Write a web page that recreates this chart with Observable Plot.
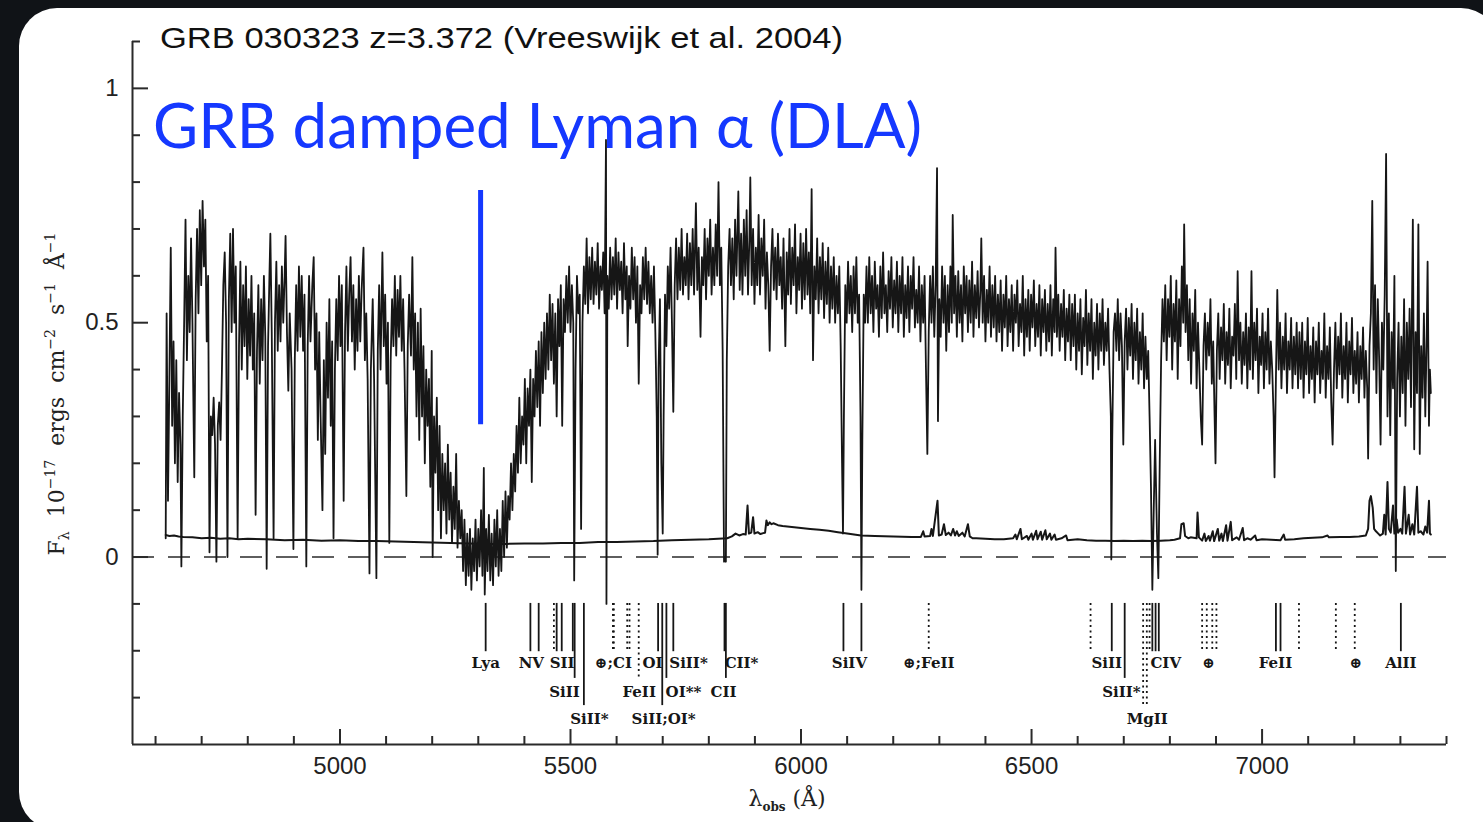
<!DOCTYPE html>
<html><head><meta charset="utf-8">
<script src="https://cdn.jsdelivr.net/npm/d3@7"></script>
<script src="https://cdn.jsdelivr.net/npm/@observablehq/plot@0.6"></script>
<style>
html,body{margin:0;padding:0;width:1483px;height:822px;overflow:hidden;background:#101317;}
#panel{position:absolute;left:19px;top:8px;width:1480px;height:822px;border-radius:38px;background:#fff;}
#chart{position:absolute;left:0;top:0;}
</style></head><body><div id="panel"></div><div id="chart"></div>
<script>
// ---- data ----
const xDomain = [4550, 7400];
const yDomain = [-0.4, 1.1];
const xMajor = [5000, 5500, 6000, 6500, 7000];
const xMinor = [4600,4700,4800,4900,5100,5200,5300,5400,5600,5700,5800,5900,6100,6200,6300,6400,6600,6700,6800,6900,7100,7200,7300,7400];
const yMajor = [0, 0.5, 1];
const yMinor = [-0.3,-0.2,-0.1,0.1,0.2,0.3,0.4,0.6,0.7,0.8,0.9,1.1];

// observed flux [wavelength Å, F]
const fluxPoints = [
[4622,0.04],[4624,0.52],[4627,0.12],[4630,0.38],[4633,0.66],[4636,0.28],[4639,0.46],[4642,0.20],[4645,0.42],[4648,0.16],[4651,0.35],[4654,0.24],[4656,-0.02],[4659,0.30],[4662,0.50],[4665,0.72],[4668,0.42],[4671,0.60],[4674,0.48],[4677,0.68],[4680,0.50],[4684,0.17],[4687,0.55],[4690,0.70],[4693,0.52],[4696,0.74],[4699,0.58],[4702,0.76],[4705,0.62],[4708,0.72],[4711,0.46],[4714,0.60],[4717,0.01],[4720,0.30],[4723,0.26],[4726,0.34],[4729,0.24],[4732,-0.01],[4735,0.28],[4738,0.33],[4741,0.25],[4744,0.40],[4747,0.58],[4750,0.65],[4753,0.50],[4756,0.00],[4759,0.55],[4762,0.69],[4765,0.48],[4768,0.70],[4771,0.50],[4774,0.62],[4778,0.04],[4781,0.45],[4784,0.63],[4787,0.40],[4790,0.58],[4793,0.45],[4796,0.62],[4799,0.38],[4802,0.55],[4805,0.43],[4808,0.60],[4811,0.40],[4814,0.52],[4817,0.09],[4820,0.44],[4823,0.58],[4826,0.37],[4829,0.55],[4832,0.42],[4835,0.60],[4838,0.47],[4841,-0.025],[4844,0.45],[4847,0.60],[4849,0.69],[4852,0.48],[4856,0.04],[4859,0.50],[4862,0.63],[4865,0.44],[4868,0.58],[4871,0.46],[4874,0.62],[4877,0.50],[4880,0.60],[4882,0.685],[4885,0.48],[4888,0.355],[4891,0.52],[4895,0.40],[4899,0.017],[4902,0.42],[4905,0.58],[4908,0.44],[4911,0.62],[4914,0.47],[4917,0.60],[4920,0.44],[4923,0.56],[4927,-0.02],[4930,0.45],[4933,0.60],[4936,0.46],[4940,0.58],[4943,0.64],[4946,0.40],[4949,0.52],[4952,0.25],[4955,0.48],[4958,0.30],[4962,0.10],[4965,0.42],[4968,0.22],[4971,0.50],[4974,0.34],[4977,0.55],[4980,0.28],[4983,0.46],[4986,0.04],[4989,0.40],[4992,0.55],[4995,0.42],[4998,0.60],[5001,0.45],[5004,0.58],[5008,0.12],[5011,0.48],[5014,0.62],[5017,0.44],[5020,0.56],[5023,0.64],[5026,0.46],[5029,0.58],[5032,0.40],[5035,0.55],[5038,0.44],[5041,0.60],[5044,0.46],[5047,0.57],[5051,0.66],[5054,0.42],[5057,0.52],[5060,0.38],[5064,-0.035],[5067,0.40],[5071,0.55],[5074,0.38],[5079,-0.045],[5082,0.44],[5085,0.58],[5088,0.40],[5092,0.65],[5095,0.45],[5098,0.56],[5101,0.37],[5104,0.50],[5107,0.03],[5110,0.42],[5113,0.55],[5116,0.45],[5119,0.60],[5122,0.43],[5125,0.57],[5128,0.47],[5131,0.60],[5134,0.44],[5137,0.55],[5140,0.40],[5144,0.13],[5147,0.45],[5150,0.56],[5154,0.43],[5157,0.64],[5160,0.40],[5163,0.52],[5166,0.30],[5169,0.50],[5172,0.25],[5175,0.53],[5178,0.30],[5181,0.45],[5184,0.20],[5187,0.40],[5190,0.28],[5193,0.38],[5196,0.15],[5199,0.44],[5201,0.00],[5204,0.30],[5207,0.18],[5210,0.34],[5213,0.10],[5216,0.28],[5219,0.04],[5222,0.22],[5225,0.10],[5228,0.20],[5231,0.05],[5234,0.24],[5237,0.08],[5240,0.18],[5243,0.03],[5246,0.15],[5249,0.06],[5252,0.22],[5255,0.02],[5258,0.12],[5261,0.04],[5264,0.10],[5267,-0.03],[5270,0.08],[5273,-0.06],[5276,0.05],[5279,-0.04],[5282,0.06],[5285,-0.07],[5288,0.04],[5291,-0.03],[5294,0.08],[5297,-0.05],[5300,0.06],[5303,-0.02],[5306,0.10],[5309,-0.04],[5312,0.19],[5314,-0.08],[5317,0.06],[5320,-0.03],[5323,0.09],[5326,-0.05],[5329,0.05],[5332,-0.06],[5335,0.08],[5338,-0.02],[5341,0.10],[5344,-0.04],[5347,0.06],[5350,-0.03],[5353,0.12],[5356,0.00],[5359,0.14],[5362,0.02],[5365,0.13],[5368,0.08],[5371,0.20],[5374,0.10],[5377,0.22],[5380,0.14],[5383,0.28],[5386,0.18],[5389,0.34],[5392,0.20],[5395,0.30],[5398,0.24],[5401,0.38],[5404,0.20],[5407,0.36],[5410,0.28],[5413,0.40],[5416,0.16],[5419,0.38],[5422,0.30],[5425,0.44],[5428,0.32],[5431,0.46],[5434,0.28],[5437,0.48],[5440,0.35],[5443,0.50],[5446,0.38],[5449,0.52],[5452,0.40],[5455,0.56],[5458,0.42],[5461,0.54],[5464,0.37],[5467,0.52],[5470,0.30],[5473,0.55],[5476,0.45],[5479,0.58],[5482,0.28],[5485,0.55],[5488,0.48],[5491,0.60],[5494,0.50],[5497,0.62],[5500,0.48],[5503,0.58],[5506,0.50],[5508,-0.05],[5511,0.40],[5514,0.60],[5517,0.52],
[5520,0.56],[5523,0.06],[5526,0.50],[5529,0.62],[5532,0.54],[5535,0.68],[5538,0.52],[5541,0.64],[5544,0.55],[5547,0.66],[5550,0.54],[5553,0.63],[5556,0.56],[5559,0.67],[5562,0.53],[5565,0.62],[5568,0.57],[5571,0.65],[5574,0.52],[5577,0.89],[5578,-0.10],[5580,0.60],[5583,0.53],[5586,0.66],[5589,0.55],[5592,0.64],[5595,0.56],[5598,0.68],[5601,0.53],[5604,0.65],[5607,0.57],[5610,0.63],[5613,0.52],[5616,0.67],[5619,0.55],[5622,0.62],[5624,0.45],[5627,0.60],[5630,0.53],[5633,0.66],[5636,0.55],[5639,0.64],[5642,0.50],[5645,0.62],[5648,0.37],[5651,0.58],[5654,0.52],[5657,0.64],[5660,0.55],[5663,0.66],[5666,0.54],[5669,0.63],[5672,0.52],[5675,0.60],[5678,0.50],[5681,0.62],[5684,0.48],[5687,0.30],[5689,0.005],[5691,0.40],[5694,0.55],[5697,0.20],[5700,0.05],[5702,0.30],[5705,0.56],[5708,0.45],[5711,0.62],[5714,0.53],[5717,0.66],[5720,0.50],[5723,0.31],[5726,0.58],[5729,0.68],[5732,0.55],[5735,0.66],[5738,0.57],[5741,0.70],[5744,0.56],[5747,0.64],[5750,0.58],[5753,0.69],[5756,0.55],[5759,0.67],[5762,0.58],[5765,0.70],[5768,0.56],[5772,0.755],[5775,0.57],[5778,0.66],[5782,0.47],[5785,0.64],[5788,0.58],[5791,0.70],[5794,0.55],[5797,0.68],[5800,0.60],[5803,0.72],[5806,0.56],[5809,0.66],[5812,0.58],[5815,0.71],[5818,0.60],[5821,0.80],[5824,0.58],[5827,0.66],[5830,0.44],[5833,-0.01],[5835,0.00],[5837,-0.01],[5839,0.42],[5842,0.62],[5845,0.70],[5848,0.58],[5851,0.68],[5854,0.55],[5857,0.72],[5860,0.60],[5864,0.78],[5867,0.57],[5870,0.69],[5873,0.56],[5876,0.72],[5879,0.60],[5882,0.74],[5885,0.56],[5888,0.68],[5890,0.81],[5893,0.58],[5896,0.70],[5899,0.54],[5902,0.66],[5905,0.58],[5908,0.73],[5911,0.56],[5914,0.68],[5917,0.60],[5920,0.72],[5923,0.53],[5926,0.65],[5929,0.58],[5932,0.44],[5935,0.62],[5938,0.70],[5941,0.57],[5944,0.66],[5947,0.55],[5950,0.69],[5953,0.58],[5956,0.64],[5959,0.53],[5962,0.68],[5966,0.45],[5969,0.65],[5972,0.56],[5975,0.70],[5978,0.54],[5981,0.66],[5984,0.58],[5987,0.71],[5990,0.52],[5993,0.64],[5996,0.57],[5999,0.69],[6002,0.53],[6005,0.67],[6008,0.55],[6011,0.70],[6014,0.56],[6017,0.65],[6020,0.52],[6023,0.785],[6026,0.42],[6029,0.62],[6032,0.55],[6035,0.68],[6038,0.52],[6041,0.64],[6044,0.55],[6047,0.67],[6050,0.51],[6053,0.63],[6056,0.54],[6059,0.66],[6062,0.50],[6065,0.62],[6068,0.53],[6071,0.64],[6074,0.50],[6077,0.60],[6080,0.52],[6083,0.62],[6086,0.45],[6089,0.20],[6091,0.05],[6093,0.30],[6096,0.58],[6099,0.50],[6102,0.63],[6105,0.52],[6108,0.60],[6111,0.48],[6114,0.62],[6117,0.52],[6120,0.64],[6123,0.50],[6126,0.56],[6129,0.30],[6131,-0.07],[6133,0.25],[6136,0.56],[6139,0.50],[6142,0.62],[6145,0.50],[6148,0.64],[6151,0.52],[6154,0.60],[6157,0.48],[6160,0.63],[6163,0.53],[6166,0.58],[6169,0.47],[6172,0.62],[6175,0.51],[6178,0.65],[6181,0.52],[6184,0.58],[6187,0.48],[6190,0.61],[6193,0.53],[6196,0.64],[6199,0.49],[6202,0.59],[6205,0.52],[6208,0.63],[6211,0.48],[6214,0.60],[6217,0.52],[6220,0.64],[6223,0.47],[6226,0.58],[6229,0.51],[6232,0.62],[6235,0.48],[6238,0.60],[6241,0.53],[6244,0.64],[6247,0.49],[6250,0.57],[6253,0.50],[6256,0.62],[6259,0.46],[6262,0.58],[6265,0.50],[6268,0.60],[6271,0.40],[6274,0.22],[6277,0.48],[6280,0.60],[6283,0.50],[6286,0.62],[6289,0.47],[6292,0.58],[6295,0.83],[6297,0.29],[6300,0.55],[6303,0.47],[6306,0.62],[6309,0.50],[6312,0.60],[6315,0.44],[6318,0.58],[6321,0.48],[6324,0.62],[6327,0.50],[6329,0.73],[6332,0.52],[6335,0.60],[6338,0.47],[6341,0.61],[6344,0.50],[6347,0.58],[6350,0.46],[6353,0.62],[6356,0.52],[6359,0.60],[6362,0.48],[6365,0.59],[6368,0.50],[6371,0.63],[6374,0.47],[6377,0.58],[6380,0.51],[6383,0.61],[6386,0.49],[6389,0.57],[6391,0.68],[6394,0.50],[6397,0.60],[6400,0.46],[6403,0.57],[6406,0.50],[6409,0.62],[6412,0.47],[6415,0.58],[6418,0.49],[6421,0.60],[6424,0.46],[6427,0.56],[6430,0.48],[6433,0.59],[6436,0.44],[6439,0.56],[6442,0.49],[6445,0.60],[6448,0.45],[6451,0.55],[6454,0.48],[6457,0.58],[6460,0.44],[6463,0.56],[6466,0.50],[6469,0.59],[6472,0.45],[6475,0.54],[6478,0.48],[6481,0.60],[6484,0.43],[6487,0.55],[6490,0.47],[6493,0.57],[6496,0.44],[6499,0.56],[6502,0.49],[6505,0.59],[6508,0.45],[6511,0.54],[6514,0.47],[6517,0.58],[6520,0.43],[6523,0.55],[6526,0.48],[6529,0.57],[6532,0.44],[6535,0.54],[6538,0.46],[6541,0.58],[6544,0.43],[6547,0.55],[6550,0.48],[6552,0.66],[6555,0.47],[6558,0.56],[6561,0.44],[6564,0.54],[6567,0.47],[6570,0.57],[6573,0.42],[6576,0.53],[6579,0.46],[6582,0.56],[6585,0.42],[6588,0.54],[6591,0.45],[6594,0.56],[6597,0.40],[6600,0.52],[6603,0.44],[6606,0.55],[6609,0.39],[6612,0.51],[6615,0.45],[6618,0.57],[6621,0.41],[6624,0.52],[6627,0.44],[6630,0.55],[6633,0.38],[6636,0.50],[6639,0.43],[6642,0.54],[6645,0.40],[6648,0.52],[6651,0.44],[6654,0.55],[6657,0.41],[6660,0.50],[6663,0.44],[6666,0.53],[6669,0.40],[6672,0.30],[6673,-0.005],[6675,0.25],[6678,0.48],[6681,0.52],[6684,0.44],[6687,0.55],[6690,0.42],[6693,0.52],[6696,0.45],[6699,0.24],[6702,0.46],[6705,0.53],[6708,0.40],[6711,0.51],[6714,0.43],[6717,0.54],[6720,0.38],[6723,0.50],[6726,0.42],[6729,0.53],[6732,0.37],[6735,0.48],[6738,0.40],[6741,0.52],[6744,0.36],[6747,0.47],[6750,0.38],[6753,0.44],[6756,0.30],[6759,0.15],[6762,-0.07],[6765,0.10],[6768,0.25],[6772,0.05],[6775,-0.045],[6778,0.20],[6781,0.42],[6784,0.55],[6787,0.46],[6790,0.58],[6793,0.42],[6796,0.55],[6799,0.47],[6802,0.60],[6805,0.40],[6808,0.54],[6811,0.46],[6814,0.59],[6817,0.38],[6820,0.55],[6823,0.45],[6826,0.62],[6829,0.50],[6831,0.71],[6834,0.48],[6837,0.58],[6840,0.42],[6843,0.55],[6846,0.37],[6849,0.52],[6852,0.44],[6855,0.57],[6858,0.36],[6861,0.50],[6864,0.40],[6867,0.30],[6870,0.24],[6873,0.45],[6876,0.52],[6879,0.40],[6882,0.50],[6885,0.43],[6888,0.55],[6891,0.37],[6894,0.46],[6897,0.30],[6899,0.20],[6902,0.44],[6905,0.52],[6908,0.38],[6911,0.49],[6914,0.42],[6917,0.54],[6920,0.37],[6923,0.48],[6926,0.41],[6929,0.53],[6932,0.36],[6935,0.47],[6938,0.43],[6941,0.54],[6944,0.38],[6947,0.61],[6950,0.42],[6953,0.50],[6956,0.37],[6959,0.48],[6962,0.41],[6965,0.52],[6968,0.36],[6971,0.49],[6974,0.40],[6977,0.61],[6980,0.38],[6983,0.50],[6986,0.42],[6989,0.53],[6992,0.35],[6995,0.47],[6998,0.41],[7001,0.52],[7004,0.36],[7007,0.48],[7010,0.40],[7013,0.53],[7016,0.37],[7019,0.46],[7022,0.40],[7025,0.30],[7027,0.17],[7030,0.38],[7033,0.57],[7036,0.40],[7039,0.50],[7042,0.36],[7045,0.47],[7048,0.40],[7051,0.52],[7054,0.35],[7057,0.46],[7060,0.40],[7063,0.51],[7066,0.36],[7069,0.47],[7072,0.39],[7075,0.50],[7078,0.36],[7081,0.48],[7084,0.38],[7087,0.50],[7090,0.34],[7093,0.46],[7096,0.39],[7099,0.51],[7102,0.35],[7105,0.45],[7108,0.38],[7111,0.49],[7114,0.33],[7117,0.46],[7120,0.39],[7123,0.50],[7126,0.35],[7129,0.44],[7132,0.38],[7135,0.52],[7138,0.34],[7141,0.45],[7144,0.38],[7147,0.49],[7150,0.33],[7153,0.24],[7156,0.40],[7159,0.50],[7162,0.36],[7165,0.47],[7168,0.39],[7171,0.52],[7174,0.34],[7177,0.45],[7180,0.38],[7183,0.50],[7186,0.33],[7189,0.46],[7192,0.39],[7195,0.51],[7198,0.35],[7201,0.44],[7204,0.37],[7207,0.48],[7210,0.33],[7213,0.45],[7216,0.38],[7219,0.49],[7222,0.34],[7225,0.44],[7228,0.36],[7230,0.21],[7233,0.45],[7236,0.52],[7239,0.76],[7242,0.40],[7245,0.58],[7248,0.35],[7251,0.55],[7254,0.42],[7257,0.24],[7260,0.50],[7263,0.40],[7266,0.56],[7269,0.86],[7272,0.30],[7275,0.52],[7278,0.26],[7281,0.48],[7284,0.36],[7287,0.60],[7290,-0.03],[7293,0.38],[7296,0.50],[7299,0.30],[7302,0.47],[7305,0.35],[7308,0.55],[7311,0.28],[7314,0.50],[7317,0.38],[7320,0.53],[7323,0.32],[7327,0.72],[7330,0.23],[7333,0.48],[7336,0.35],[7339,0.71],[7342,0.22],[7345,0.45],[7348,0.34],[7351,0.52],[7354,0.30],[7357,0.47],[7359,0.63],[7362,0.28],[7364,0.40],[7366,0.35]
];

// error spectrum [wavelength Å, sigma]
const errorPoints = [
[4622,0.047],[4630,0.045],[4640,0.046],[4650,0.044],[4660,0.043],[4680,0.042],[4700,0.040],[4720,0.041],[4740,0.039],[4760,0.040],[4780,0.038],[4800,0.039],[4840,0.038],[4880,0.036],[4920,0.037],[4960,0.035],[5000,0.036],[5040,0.034],[5080,0.034],[5120,0.033],[5160,0.032],[5200,0.031],[5240,0.030],[5280,0.029],[5320,0.028],[5360,0.028],[5400,0.029],[5440,0.029],[5480,0.030],[5520,0.030],[5560,0.032],[5600,0.032],[5640,0.033],[5680,0.034],[5720,0.036],[5760,0.037],[5800,0.038],[5840,0.040],[5850,0.044],[5858,0.050],[5866,0.046],[5874,0.049],[5880,0.048],[5884,0.110],[5887,0.050],[5892,0.052],[5896,0.085],[5899,0.050],[5906,0.053],[5912,0.049],[5918,0.051],[5922,0.052],[5925,0.078],[5928,0.068],[5932,0.074],[5936,0.070],[5940,0.072],[5950,0.068],[5960,0.066],[5980,0.064],[6000,0.062],[6020,0.060],[6040,0.058],[6060,0.056],[6080,0.053],[6100,0.050],[6130,0.046],[6160,0.045],[6200,0.044],[6240,0.043],[6260,0.043],[6265,0.055],[6268,0.044],[6280,0.045],[6283,0.060],[6286,0.045],[6296,0.120],[6299,0.046],[6305,0.048],[6310,0.070],[6314,0.047],[6320,0.052],[6325,0.046],[6330,0.060],[6334,0.046],[6338,0.055],[6342,0.045],[6350,0.052],[6355,0.044],[6362,0.070],[6366,0.044],[6372,0.040],[6380,0.040],[6400,0.039],[6420,0.038],[6440,0.038],[6460,0.040],[6465,0.048],[6468,0.038],[6476,0.060],[6479,0.038],[6490,0.045],[6493,0.037],[6500,0.050],[6503,0.037],[6510,0.056],[6513,0.038],[6520,0.054],[6523,0.037],[6530,0.057],[6533,0.038],[6540,0.050],[6543,0.037],[6550,0.048],[6553,0.037],[6565,0.040],[6575,0.046],[6578,0.036],[6600,0.038],[6620,0.036],[6640,0.035],[6660,0.035],[6680,0.034],[6700,0.035],[6720,0.034],[6740,0.035],[6760,0.034],[6780,0.035],[6800,0.036],[6810,0.037],[6822,0.040],[6825,0.070],[6830,0.072],[6833,0.045],[6840,0.040],[6845,0.042],[6858,0.040],[6860,0.095],[6863,0.042],[6870,0.035],[6875,0.050],[6878,0.034],[6884,0.045],[6887,0.035],[6893,0.055],[6896,0.034],[6904,0.060],[6907,0.035],[6912,0.050],[6915,0.034],[6922,0.068],[6925,0.035],[6932,0.075],[6935,0.036],[6945,0.042],[6950,0.037],[6958,0.062],[6961,0.036],[6968,0.040],[6975,0.037],[6985,0.046],[6988,0.036],[7000,0.038],[7020,0.037],[7040,0.036],[7047,0.048],[7050,0.037],[7070,0.038],[7090,0.040],[7110,0.041],[7130,0.042],[7142,0.046],[7145,0.042],[7170,0.043],[7190,0.043],[7210,0.044],[7225,0.046],[7230,0.060],[7233,0.120],[7236,0.130],[7240,0.105],[7243,0.060],[7247,0.055],[7252,0.050],[7256,0.046],[7262,0.050],[7265,0.090],[7268,0.048],[7272,0.160],[7275,0.060],[7279,0.052],[7284,0.110],[7287,0.050],[7292,0.080],[7295,0.052],[7300,0.060],[7304,0.050],[7309,0.150],[7312,0.050],[7318,0.090],[7321,0.048],[7326,0.070],[7330,0.048],[7336,0.150],[7339,0.052],[7344,0.055],[7350,0.048],[7354,0.065],[7358,0.052],[7362,0.120],[7364,0.050],[7366,0.048]
];

// absorption-line identifications: [wavelength Å, label row reached by the line]
const solidLines = [[5316,1],[5413,1],[5431,1],[5470,1],[5481,1],[5505,1],[5509,2],[5529,3],[5690,1],[5699,3],[5708,2],[5723,1],[5834,1],[5837,2],[6092,1],[6131,1],[6674,1],[6702,2],[6762,1],[6769,1],[6776,1],[7030,1],[7040,1],[7301,1]];
const dottedLines = [[5464,1],[5592,1],[5594,1],[5623,1],[5628,1],[5648,2],[6277,1],[6628,1],[6742,3],[6750,3],[6756,1],[6870,1],[6880,1],[6892,1],[6901,1],[7080,1],[7160,1],[7201,1]];
const lineLabels = [["Lya",5316,1],["NV",5415,1],["SII",5482,1],["SiII",5487,2],["SiII*",5541,3],["⊕;CI",5593,1],["OI",5678,1],["FeII",5649,2],["SiII*",5756,1],["OI**",5745,2],["SiII;OI*",5702,3],["CII*",5871,1],["CII",5832,2],["SiIV",6105,1],["⊕;FeII",6277,1],["SiII",6663,1],["SiII*",6695,2],["MgII",6751,3],["CIV",6791,1],["⊕",6884,1],["FeII",7029,1],["⊕",7203,1],["AlII",7301,1]];
const lineTop = -0.099;
const rowEnds = [-0.202, -0.259, -0.317];
const rowLabelY = [-0.227, -0.289, -0.347];

// DLA marker
const dlaMarkerWave = [5305];
const dlaMarkerRange = [0.282, 0.782];

const titleText = "GRB 030323 z=3.372 (Vreeswijk et al. 2004)";
const headingText = "GRB damped Lyman α (DLA)";

// ---- chart ----
const ink = "#161616";
const blue = "#1538ff";
const W = 1483, H = 822, mL = 132, mR = 37, mT = 41, mB = 78;
const frameW = W - mL - mR, frameH = H - mT - mB;

const chart = Plot.plot({
  width: W, height: H,
  marginLeft: mL, marginRight: mR, marginTop: mT, marginBottom: mB,
  style: {background: "transparent", fontFamily: "'Liberation Sans', Arial, sans-serif", fontSize: "24px", color: ink},
  x: {domain: xDomain},
  y: {domain: yDomain},
  marks: [
    Plot.ruleY([0], {stroke: "#2a2a2a", strokeWidth: 1.6, strokeDasharray: "22,14"}),
    Plot.ruleX(dlaMarkerWave, {x: d => d, y1: () => dlaMarkerRange[0], y2: () => dlaMarkerRange[1], stroke: blue, strokeWidth: 5, strokeLinecap: "butt"}),
    Plot.line(errorPoints, {x: d => d[0], y: d => d[1], stroke: ink, strokeWidth: 2}),
    Plot.line(fluxPoints, {x: d => d[0], y: d => d[1], stroke: ink, strokeWidth: 1.8}),
    Plot.ruleX(solidLines, {x: d => d[0], y1: () => lineTop, y2: d => rowEnds[d[1] - 1], stroke: ink, strokeWidth: 1.8}),
    Plot.ruleX(dottedLines, {x: d => d[0], y1: () => lineTop, y2: d => rowEnds[d[1] - 1], stroke: ink, strokeWidth: 1.8, strokeDasharray: "2,3.5"}),
    Plot.text(lineLabels, {x: d => d[1], y: d => rowLabelY[d[2] - 1], text: d => d[0], fontFamily: "'DejaVu Serif', serif", fontWeight: "bold", fontSize: 15, fill: ink}),
    Plot.ruleY([yDomain[0]], {stroke: "#2a2a2a", strokeWidth: 2}),
    Plot.ruleX([xDomain[0]], {stroke: "#2a2a2a", strokeWidth: 2}),
    Plot.tickX(xMinor, {x: d => d, insetTop: frameH - 8, stroke: "#2a2a2a", strokeWidth: 2}),
    Plot.tickX(xMajor, {x: d => d, insetTop: frameH - 15, stroke: "#2a2a2a", strokeWidth: 2}),
    Plot.tickY(yMinor, {y: d => d, insetRight: frameW - 8, stroke: "#2a2a2a", strokeWidth: 2}),
    Plot.tickY(yMajor, {y: d => d, insetRight: frameW - 16, stroke: "#2a2a2a", strokeWidth: 2}),
    Plot.axisX({ticks: xMajor, tickSize: 0, tickPadding: 12, tickFormat: d3.format("d"), fontSize: 24, fill: "#222"}),
    Plot.axisY({ticks: yMajor, tickSize: 0, tickPadding: 14, tickFormat: d => String(d), fontSize: 24, fill: "#222"})
  ]
});
document.getElementById("chart").appendChild(chart);

const svg = d3.select(chart);
// blue heading beneath the spectrum lines
svg.insert("text", 'g[aria-label="line"]')
  .attr("x", 153).attr("y", 148).attr("text-anchor", "start")
  .attr("font-family", "Lato, 'Open Sans', sans-serif").attr("font-size", 62)
  .attr("textLength", 769).attr("lengthAdjust", "spacingAndGlyphs")
  .attr("fill", blue).text(headingText);
// title
svg.append("text").attr("x", 160).attr("y", 48).attr("text-anchor", "start")
  .attr("font-family", "'Liberation Sans', Arial, sans-serif").attr("font-size", 30)
  .attr("textLength", 683).attr("lengthAdjust", "spacingAndGlyphs")
  .attr("fill", "#111").text(titleText);
// y label
const yl = svg.append("text").attr("transform", "translate(64,394) rotate(-90)")
  .attr("text-anchor", "middle").attr("font-family", "'DejaVu Serif', serif")
  .attr("font-size", 22).attr("fill", "#222");
yl.append("tspan").text("F");
yl.append("tspan").attr("font-size", 14).attr("dy", 5).text("λ");
yl.append("tspan").attr("dy", -5).text("  10");
yl.append("tspan").attr("font-size", 14).attr("dy", -9).text("−17");
yl.append("tspan").attr("dy", 9).text("  ergs  cm");
yl.append("tspan").attr("font-size", 14).attr("dy", -9).text("−2");
yl.append("tspan").attr("dy", 9).text("  s");
yl.append("tspan").attr("font-size", 14).attr("dy", -9).text("−1");
yl.append("tspan").attr("dy", 9).text("  Å");
yl.append("tspan").attr("font-size", 14).attr("dy", -9).text("−1");
// x label
const xl = svg.append("text").attr("x", 787).attr("y", 806)
  .attr("text-anchor", "middle").attr("font-family", "'DejaVu Serif', serif")
  .attr("font-size", 22).attr("fill", "#222");
xl.append("tspan").text("λ");
xl.append("tspan").attr("font-size", 12).attr("font-weight", "bold").attr("dy", 5).text("obs");
xl.append("tspan").attr("dy", -5).text(" (Å)");
</script></body></html>
